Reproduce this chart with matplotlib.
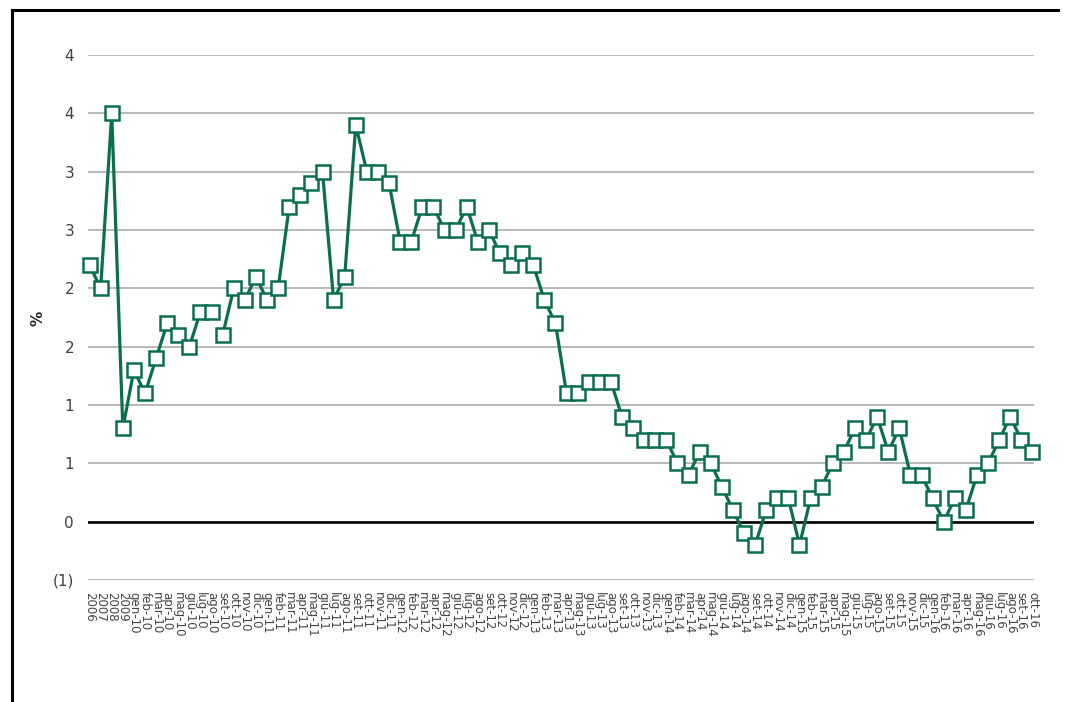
import math
import matplotlib
matplotlib.use('Agg')
import matplotlib.pyplot as plt
import numpy as np
from matplotlib.lines import Line2D
from matplotlib.ticker import FuncFormatter

# category labels: 4 yearly points then monthly from gen-10 to ott-16
years = ['2006', '2007', '2008', '2009']
months = ['gen', 'feb', 'mar', 'apr', 'mag', 'giu', 'lug', 'ago', 'set', 'ott', 'nov', 'dic']
categories = years + ['{}-{}'.format(m, y) for y in range(10, 17) for m in months]
categories = categories[:86]

vals_years = [2.2, 2.0, 3.5, 0.8]
vals_2010 = [1.3, 1.1, 1.4, 1.7, 1.6, 1.5, 1.8, 1.8, 1.6, 2.0, 1.9, 2.1]
vals_2011 = [1.9, 2.0, 2.7, 2.8, 2.9, 3.0, 1.9, 2.1, 3.4, 3.0, 3.0, 2.9]
vals_2012 = [2.4, 2.4, 2.7, 2.7, 2.5, 2.5, 2.7, 2.4, 2.5, 2.3, 2.2, 2.3]
vals_2013 = [2.2, 1.9, 1.7, 1.1, 1.1, 1.2, 1.2, 1.2, 0.9, 0.8, 0.7, 0.7]
vals_2014 = [0.7, 0.5, 0.4, 0.6, 0.5, 0.3, 0.1, -0.1, -0.2, 0.1, 0.2, 0.2]
vals_2015 = [-0.2, 0.2, 0.3, 0.5, 0.6, 0.8, 0.7, 0.9, 0.6, 0.8, 0.4, 0.4]
vals_2016 = [0.2, 0.0, 0.2, 0.1, 0.4, 0.5, 0.7, 0.9, 0.7, 0.6]

values = np.array(vals_years + vals_2010 + vals_2011 + vals_2012 + vals_2013
                  + vals_2014 + vals_2015 + vals_2016)

# the connecting line is broken between ago-10 and set-10
line_breaks = [12]

green = '#0b6e4f'

fig = plt.figure(figsize=(10.65, 7.02), dpi=100)
ax = fig.add_axes([88 / 1065, 1 - 580 / 702, 946 / 1065, 525 / 702])

x = np.arange(len(categories))
for xs, ys in zip(np.split(x, line_breaks), np.split(values, line_breaks)):
    ax.plot(xs, ys, color=green, lw=2.3, zorder=3, clip_on=False)
ax.plot(x, values, ls='none', marker='s', ms=9.5, mfc='white', mec=green,
        mew=1.8, zorder=4, clip_on=False)

ax.set_xlim(-0.14, len(categories) - 1 + 0.14)
ax.set_ylim(-0.5, 4.0)
ax.set_yticks(np.arange(-0.5, 4.01, 0.5))


def fmt(v, pos):
    n = math.floor(abs(v) + 0.5)
    return '({})'.format(n) if v < -1e-9 else str(n)


ax.yaxis.set_major_formatter(FuncFormatter(fmt))
ax.grid(axis='y', color='#a6a6a6', lw=1.1, zorder=1)
ax.axhline(0, color='black', lw=1.9, zorder=2)

ax.set_xticks(x)
ax.set_xticklabels(categories, rotation=-90, ha='center', va='top',
                   fontsize=8.5, color='#444444')
ax.tick_params(axis='x', length=0, pad=9)
ax.tick_params(axis='y', length=0, pad=10, labelsize=11, labelcolor='#404040')
for lab in ax.get_yticklabels():
    lab.set_family(['Liberation Sans Narrow', 'DejaVu Sans'])

for s in ax.spines.values():
    s.set_visible(False)

fig.text(38 / 1065, 1 - 318 / 702, '%', rotation=90, fontsize=11,
         fontweight='bold', ha='center', va='center', color='#222222')

# outer frame (left and top edges visible)
fig.add_artist(Line2D([12 / 1065, 12 / 1065], [0, 1 - 10 / 702],
                      transform=fig.transFigure, color='black', lw=2.2))
fig.add_artist(Line2D([12 / 1065, 1058 / 1065], [1 - 10 / 702, 1 - 10 / 702],
                      transform=fig.transFigure, color='black', lw=2.2))

fig.savefig('out.png', dpi=100)
